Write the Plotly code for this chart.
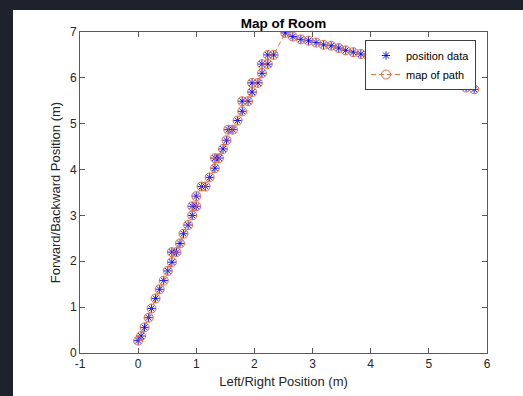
import plotly.graph_objects as go

x_pos = [0.00, 0.05, 0.11, 0.18, 0.23, 0.30, 0.37, 0.44, 0.51, 0.58, 0.58, 0.66, 0.72, 0.78, 0.86,
         0.93, 0.93, 1.00, 1.00, 1.09, 1.16, 1.23, 1.32, 1.32, 1.39, 1.46, 1.52, 1.55, 1.63, 1.71,
         1.79, 1.79, 1.89, 1.96, 1.96, 2.06, 2.13, 2.13, 2.23, 2.23, 2.33, 2.53,
         2.66, 2.80, 2.93, 3.06, 3.19, 3.32, 3.45, 3.57, 3.70, 3.83, 3.96, 4.09, 4.22, 4.35,
         4.48, 4.61, 4.74, 4.87, 5.00, 5.12, 5.26, 5.39, 5.51, 5.64, 5.78]
y_pos = [0.27, 0.37, 0.56, 0.77, 0.97, 1.19, 1.39, 1.58, 1.79, 1.98, 2.20, 2.20, 2.39, 2.60, 2.79,
         3.00, 3.20, 3.20, 3.42, 3.63, 3.63, 3.83, 4.03, 4.25, 4.25, 4.45, 4.64, 4.87, 4.87, 5.07,
         5.27, 5.49, 5.49, 5.69, 5.89, 5.89, 6.10, 6.30, 6.30, 6.50, 6.50, 6.98,
         6.90, 6.84, 6.81, 6.77, 6.72, 6.70, 6.65, 6.60, 6.56, 6.52, 6.48, 6.43, 6.38, 6.34,
         6.28, 6.24, 6.18, 6.12, 6.07, 6.00, 5.95, 5.88, 5.84, 5.79, 5.75]

x_ticks = [-1, 0, 1, 2, 3, 4, 5, 6]
y_ticks = [0, 1, 2, 3, 4, 5, 6, 7]

FONT = "Liberation Sans, Arial, Helvetica, sans-serif"
AX = "#262626"

fig = go.Figure()
fig.add_trace(go.Scatter(
    x=x_pos, y=y_pos, mode="markers", name="position data",
    marker=dict(symbol="asterisk-open", size=7, color="#0000FF",
                line=dict(color="#0000FF", width=0.9)),
))
fig.add_trace(go.Scatter(
    x=x_pos, y=y_pos, mode="lines+markers", name="map of path",
    line=dict(color="#D95319", width=0.8, dash="5px,3px"),
    marker=dict(symbol="circle-open", size=9, color="#E06A3A",
                line=dict(color="#E06A3A", width=1)),
))

W, H = 523, 396
L, R, T, B = 80, 487, 32, 353
pw, ph = R - L, B - T

def px(p):
    return (p - L) / pw

def py(p):
    return (B - p) / ph

axis_common = dict(
    showgrid=False, zeroline=False, showline=True, linecolor="#5a5a5a", linewidth=1,
    mirror="ticks", ticks="inside", ticklen=5, tickcolor="#5a5a5a", tickwidth=1,
    tickfont=dict(family=FONT, size=12, color=AX), automargin=False,
)

fig.update_layout(
    width=W, height=H,
    margin=dict(l=L, r=W - R, t=T, b=H - B, autoexpand=False),
    paper_bgcolor="white", plot_bgcolor="white",
    title=dict(text="<b>Map of Room</b>", x=0.5, xref="paper", xanchor="center",
               y=1 - 23 / H, yanchor="middle", automargin=False,
               font=dict(family=FONT, size=13.5, color="black")),
    xaxis=dict(range=[-1, 6], tickvals=x_ticks, ticktext=[str(v) for v in x_ticks],
               title=dict(text="Left/Right Position (m)", standoff=6,
                          font=dict(family=FONT, size=13, color=AX)),
               **axis_common),
    yaxis=dict(range=[0, 7], tickvals=y_ticks, ticktext=[str(v) for v in y_ticks],
               title=dict(text="Forward/Backward Position (m)", standoff=6,
                          font=dict(family=FONT, size=13, color=AX)),
               **axis_common),
    legend=dict(x=px(365), y=py(40), xanchor="left", yanchor="top",
                bgcolor="white", bordercolor="#404040", borderwidth=1,
                font=dict(family=FONT, size=11, color="black"),
                tracegroupgap=0, itemwidth=30, traceorder="normal"),
    showlegend=True,
    shapes=[
        dict(type="rect", xref="paper", yref="paper", x0=px(-5), x1=px(13),
             y0=py(H + 5), y1=py(-5), fillcolor="#1e222d", line=dict(width=0), layer="above"),
        dict(type="rect", xref="paper", yref="paper", x0=px(-5), x1=px(W + 5),
             y0=py(10), y1=py(-5), fillcolor="#1e222d", line=dict(width=0), layer="above"),
    ],
)

fig.write_html("out.html", config={"displayModeBar": False},
               post_script="document.body.style.margin='0px';document.body.style.overflow='hidden';")
